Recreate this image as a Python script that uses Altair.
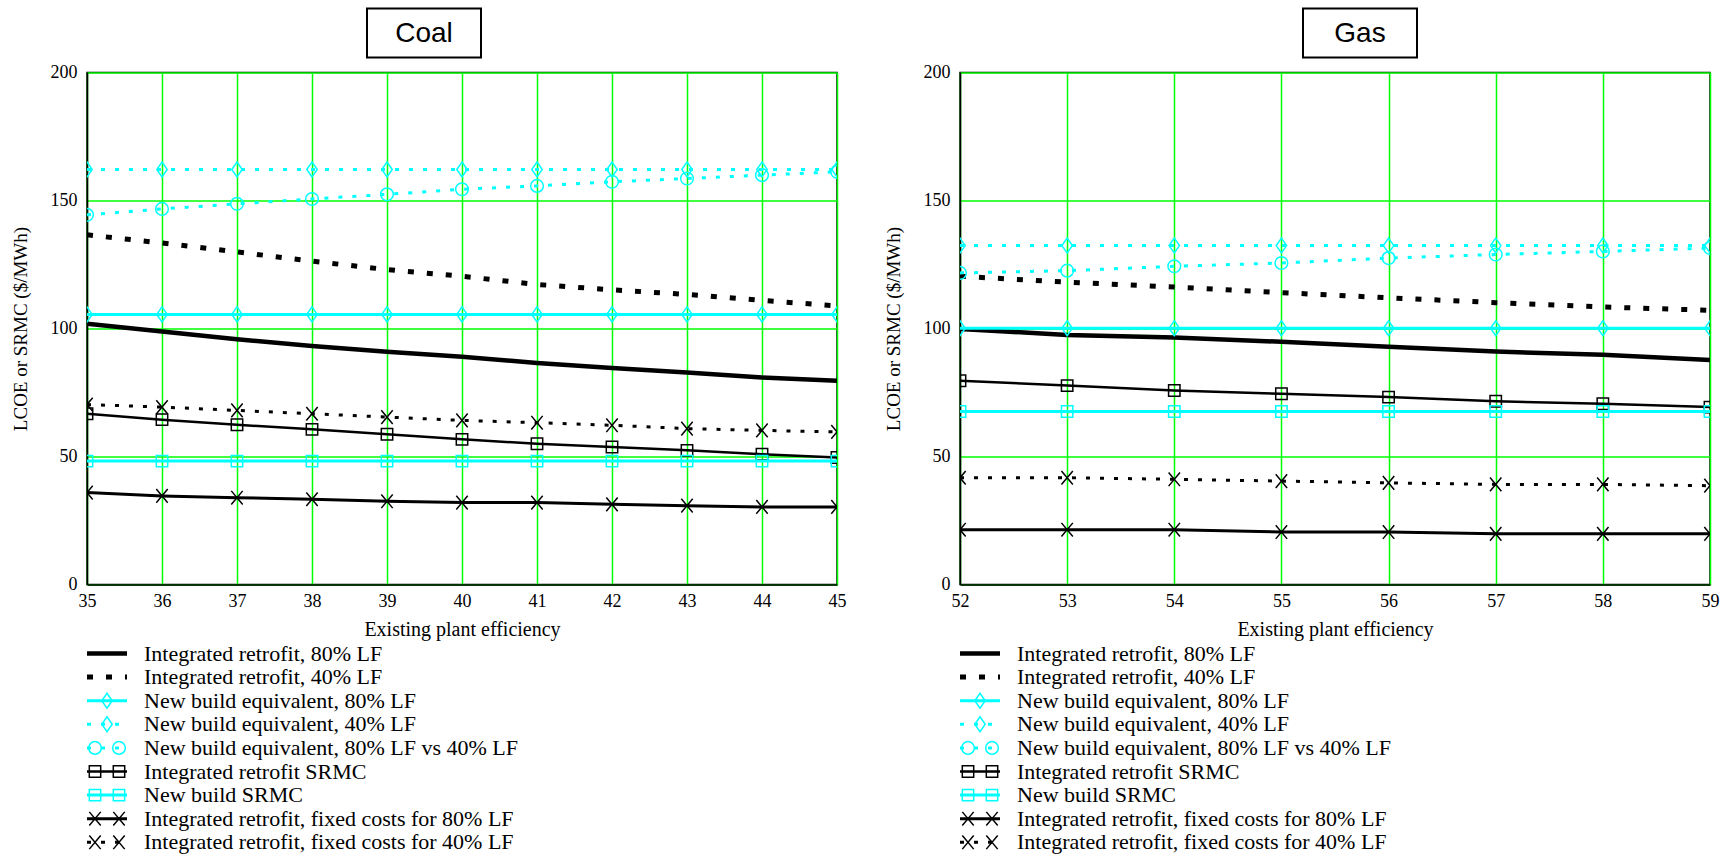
import altair as alt
import pandas as pd

SERIF = "Liberation Serif"
SANS = "Liberation Sans"
CYAN = "#00FFFF"
GRID_GREEN = "#00FF00"

SERIES = [
    "Integrated retrofit, 80% LF",
    "Integrated retrofit, 40% LF",
    "New build equivalent, 80% LF",
    "New build equivalent, 40% LF",
    "New build equivalent, 80% LF vs 40% LF",
    "Integrated retrofit SRMC",
    "New build SRMC",
    "Integrated retrofit, fixed costs for 80% LF",
    "Integrated retrofit, fixed costs for 40% LF",
]

# ---- Coal: existing plant efficiency 35-45 % ----
coal_eff = [35, 36, 37, 38, 39, 40, 41, 42, 43, 44, 45]
coal_ir80 = [101.9, 98.8, 95.8, 93.2, 90.9, 89.0, 86.5, 84.6, 82.8, 80.9, 79.6]
coal_ir40 = [136.6, 133.4, 129.9, 126.3, 123.0, 120.4, 117.2, 115.1, 113.3, 111.0, 108.8]
coal_nb80 = [105.5, 105.5, 105.5, 105.5, 105.5, 105.5, 105.5, 105.5, 105.5, 105.5, 105.5]
coal_nb40 = [162.1, 162.1, 162.1, 162.1, 162.1, 162.1, 162.1, 162.1, 162.1, 162.1, 162.1]
coal_nb_vs = [144.4, 146.7, 148.7, 150.6, 152.4, 154.4, 155.7, 157.3, 158.6, 159.9, 161.2]
coal_ir_srmc = [66.7, 64.4, 62.4, 60.6, 58.7, 56.7, 55.0, 53.7, 52.4, 50.9, 49.6]
coal_nb_srmc = [48.2, 48.2, 48.2, 48.2, 48.2, 48.2, 48.2, 48.2, 48.2, 48.2, 48.2]
coal_fix80 = [35.9, 34.6, 33.9, 33.3, 32.5, 32.0, 32.0, 31.3, 30.8, 30.3, 30.3]
coal_fix40 = [70.3, 69.3, 68.0, 66.7, 65.4, 64.1, 63.2, 62.2, 60.9, 60.2, 59.6]

# ---- Gas: existing plant efficiency 52-59 % ----
gas_eff = [52, 53, 54, 55, 56, 57, 58, 59]
gas_ir80 = [99.8, 97.5, 96.5, 94.8, 92.9, 91.0, 89.7, 87.7]
gas_ir40 = [120.4, 118.1, 116.2, 114.0, 112.0, 110.1, 108.4, 107.1]
gas_nb80 = [100.1, 100.1, 100.1, 100.1, 100.1, 100.1, 100.1, 100.1]
gas_nb40 = [132.4, 132.4, 132.4, 132.4, 132.4, 132.4, 132.4, 132.4]
gas_nb_vs = [121.7, 122.6, 124.3, 125.6, 127.5, 128.9, 130.1, 131.4]
gas_ir_srmc = [79.6, 77.7, 75.8, 74.5, 73.2, 71.6, 70.6, 69.3]
gas_nb_srmc = [67.6, 67.6, 67.6, 67.6, 67.6, 67.6, 67.6, 67.6]
gas_fix80 = [21.4, 21.4, 21.4, 20.5, 20.5, 19.8, 19.8, 19.8]
gas_fix40 = [41.7, 41.7, 41.1, 40.4, 39.7, 39.1, 39.1, 38.6]

y_ticks = [0, 50, 100, 150, 200]

# marker outlines (unit paths, scaled by the mark size)
X_PATH = "M-1,-1.2L1,1.2M-1,1.2L1,-1.2"
DIAMOND_PATH = "M0,-1.15L0.8,0L0,1.15L-0.8,0Z"

# line / marker style per series; "legend_at" = marker offsets on the legend swatch
STYLE = {
    SERIES[0]: dict(color="black", width=4.5, dash=None, shape=None, size=0, legend_at=[]),
    SERIES[1]: dict(color="black", width=5, dash=[6, 13], shape=None, size=0, legend_at=[]),
    SERIES[2]: dict(color=CYAN, width=3, dash=None, shape=DIAMOND_PATH, size=170, legend_at=[20]),
    SERIES[3]: dict(color=CYAN, width=3, dash=[4, 10], shape=DIAMOND_PATH, size=170, legend_at=[20]),
    SERIES[4]: dict(color=CYAN, width=3, dash=[4, 10], shape="circle", size=160, legend_at=[8, 32]),
    SERIES[5]: dict(color="black", width=2.5, dash=None, shape="square", size=130, legend_at=[8, 32]),
    SERIES[6]: dict(color=CYAN, width=3, dash=None, shape="square", size=130, legend_at=[8, 32]),
    SERIES[7]: dict(color="black", width=3, dash=None, shape=X_PATH, size=130, legend_at=[8, 32]),
    SERIES[8]: dict(color="black", width=3, dash=[4, 10], shape=X_PATH, size=130, legend_at=[8, 32]),
}

PLOT_W = 750
PLOT_H = 512
LEGEND_TOP = PLOT_H + 69      # first legend row, below the x-axis title
LEGEND_ROW = 23.6


def line_kwargs(st):
    kw = dict(color=st["color"], strokeWidth=st["width"], clip=True)
    if st["dash"]:
        kw["strokeDash"] = st["dash"]
    return kw


def point_kwargs(st, clip=True):
    return dict(shape=st["shape"], size=st["size"], filled=False, color=st["color"],
                strokeWidth=1.5, opacity=1, clip=clip)


def panel(name, eff, values, box_left, box_right):
    rows = []
    for s, vals in zip(SERIES, values):
        for e, v in zip(eff, vals):
            rows.append({"eff": e, "value": v, "series": s})
    df = pd.DataFrame(rows)

    x_enc = alt.X(
        "eff:Q",
        scale=alt.Scale(domain=[eff[0], eff[-1]], nice=False, zero=False),
        axis=alt.Axis(values=eff, format="d", title="Existing plant efficiency",
                      grid=True, gridColor=GRID_GREEN, gridWidth=1.5, ticks=False,
                      domainColor="black", domainWidth=1.5, labelFlush=False,
                      labelFont=SERIF, labelFontSize=18, labelColor="black", labelPadding=8,
                      titleFont=SERIF, titleFontSize=20, titleFontWeight="normal",
                      titleColor="black", titlePadding=9),
    )
    y_enc = alt.Y(
        "value:Q",
        scale=alt.Scale(domain=[0, 200], nice=False),
        axis=alt.Axis(values=y_ticks, title="LCOE or SRMC ($/MWh)",
                      grid=True, gridColor=GRID_GREEN, gridWidth=1.5, ticks=False,
                      domainColor="black", domainWidth=1.5,
                      labelFont=SERIF, labelFontSize=18, labelColor="black", labelPadding=10,
                      titleFont=SERIF, titleFontSize=19, titleFontWeight="normal",
                      titleColor="black", titlePadding=20),
    )

    data_layers = []
    for s in SERIES:
        st = STYLE[s]
        base = alt.Chart(df).transform_filter(alt.datum.series == s)
        data_layers.append(base.mark_line(**line_kwargs(st)).encode(x=x_enc, y=y_enc))
        if st["shape"]:
            data_layers.append(base.mark_point(**point_kwargs(st)).encode(x=x_enc, y=y_enc))

    # boxed panel heading above the plot
    head = alt.Chart(pd.DataFrame({"fuel": [name]}))
    box = head.mark_rect(fill="white", stroke="black", strokeWidth=2).encode(
        x=alt.value(box_left), x2=alt.value(box_right), y=alt.value(-64), y2=alt.value(-15))
    box_text = head.mark_text(font=SANS, fontSize=28, align="center", baseline="middle",
                              color="black").encode(
        x=alt.value((box_left + box_right) / 2), y=alt.value(-38.5), text="fuel:N")

    # legend below the plot: swatch (line + markers) and label per series
    leg_df = pd.DataFrame({"label": SERIES})
    y_leg = alt.Y("label:N", axis=None,
                  scale=alt.Scale(type="point", domain=SERIES, padding=0,
                                  range=[LEGEND_TOP, LEGEND_TOP + LEGEND_ROW * (len(SERIES) - 1)]))
    leg_layers = []
    for s in SERIES:
        st = STYLE[s]
        base = alt.Chart(leg_df).transform_filter(alt.datum.label == s)
        rkw = dict(color=st["color"], strokeWidth=st["width"])
        if st["dash"]:
            rkw["strokeDash"] = st["dash"]
        leg_layers.append(base.mark_rule(**rkw).encode(
            x=alt.value(0), x2=alt.value(40), y=y_leg))
        for px in st["legend_at"]:
            leg_layers.append(base.mark_point(**point_kwargs(st, clip=False)).encode(
                x=alt.value(px), y=y_leg))
    leg_layers.append(alt.Chart(leg_df).mark_text(
        align="left", baseline="middle", font=SERIF, fontSize=22, color="black").encode(
        x=alt.value(57), y=y_leg, text="label:N"))

    plot = alt.layer(
        alt.layer(*data_layers),
        alt.layer(*leg_layers),
        box, box_text,
    ).resolve_scale(y="independent").properties(
        width=PLOT_W, height=PLOT_H,
        view=alt.ViewBackground(stroke="black", strokeWidth=1.5))
    return plot


coal = panel("Coal", coal_eff,
             [coal_ir80, coal_ir40, coal_nb80, coal_nb40, coal_nb_vs,
              coal_ir_srmc, coal_nb_srmc, coal_fix80, coal_fix40],
             280, 394)
gas = panel("Gas", gas_eff,
            [gas_ir80, gas_ir40, gas_nb80, gas_nb40, gas_nb_vs,
             gas_ir_srmc, gas_nb_srmc, gas_fix80, gas_fix40],
            343, 457)

chart = alt.hconcat(coal, gas, spacing=123, bounds="flush").properties(
    padding={"left": 10, "top": 6.5, "right": 0, "bottom": 0},
    background="white",
)

chart.save("out.html", embed_options={"renderer": "svg", "actions": False})
